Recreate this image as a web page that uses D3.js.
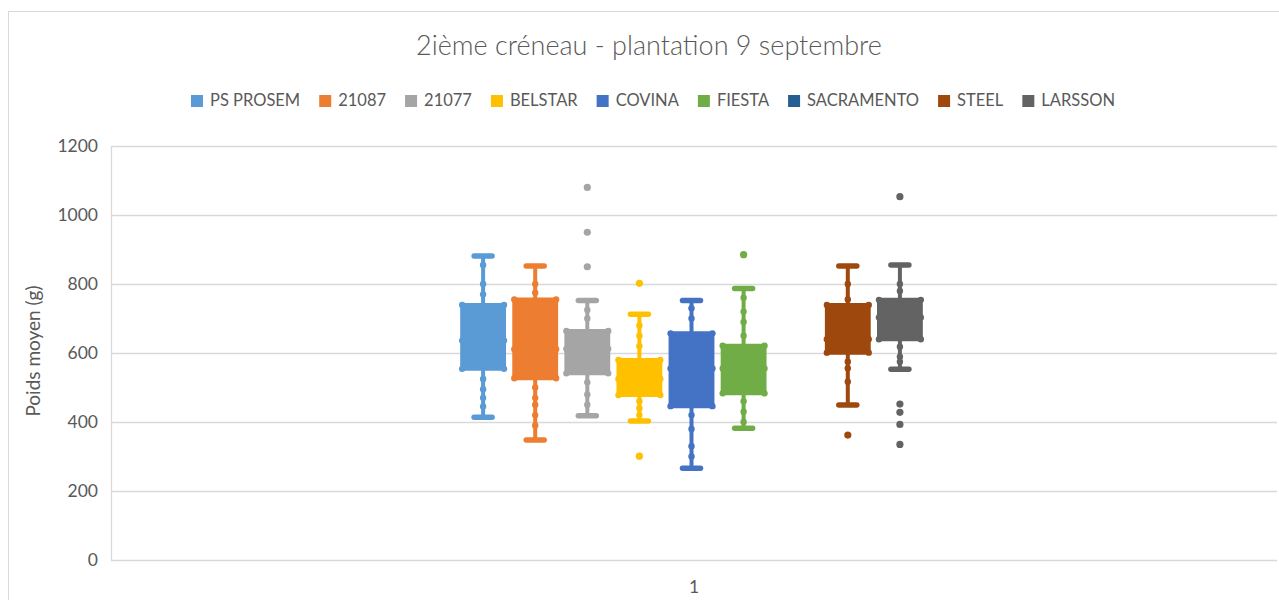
<!DOCTYPE html>
<html>
<head>
<meta charset="utf-8">
<script src="https://cdn.jsdelivr.net/npm/d3@7"></script>
<style>
  html, body { margin: 0; padding: 0; background: #fff; }
  text { font-family: Lato, "Open Sans", sans-serif; fill: #595959; }
</style>
</head>
<body>
<svg id="chart" width="1279" height="600"></svg>
<script>
    'use strict';

    // Data (g)
    const series = ['PS PROSEM', '21087', '21077', 'BELSTAR', 'COVINA', 'FIESTA', 'SACRAMENTO', 'STEEL', 'LARSSON'];
    const colors = ['#5B9BD5', '#ED7D31', '#A5A5A5', '#FFC000', '#4472C4', '#70AD47', '#255E91', '#9E480E', '#636363'];
    const whiskerLow = [414, 348, 418, 403, 266, 382, null, 449, 553];
    const q1 = [554, 527, 541, 478, 446, 483, null, 601, 640];
    const median = [636, 611, 612, 525, 555, 555, null, 640, 703];
    const q3 = [739, 755, 664, 580, 657, 621, null, 739, 754];
    const whiskerHigh = [881, 852, 752, 712, 752, 787, null, 852, 855];
    const outliers = [[], [], [1080, 950, 850], [802, 301], [], [885], [], [362], [1053, 452, 428, 393, 335]];
    const innerPoints = [
        [855, 800, 770, 525, 495, 470, 445],
        [800, 775, 500, 470, 450, 420, 390],
        [725, 700, 515, 480, 450],
        [680, 650, 620, 460, 440, 420],
        [730, 700, 420, 380, 330, 300],
        [760, 720, 690, 650, 460, 430, 400],
        [],
        [800, 755, 575, 556, 517],
        [800, 780, 618, 589, 575]
    ];
    const yTicks = [0, 200, 400, 600, 800, 1000, 1200];
    const categories = ['1'];

    // Layout
    const plot = { left: 111, right: 1277, top: 146, bottom: 560 };

    const svg = d3.select('#chart');

    // Chart area border
    svg.append('rect')
        .attr('x', 8.5).attr('y', 11.5)
        .attr('width', 1300).attr('height', 700)
        .attr('fill', 'none')
        .attr('stroke', '#D9D9D9');

    const y = d3.scaleLinear().domain([0, 1200]).range([plot.bottom, plot.top]);
    const xCat = d3.scaleBand().domain(categories).range([plot.left, plot.right]);
    const catCenter = xCat('1') + xCat.bandwidth() / 2 - 2.5;
    const step = 52.1;
    const x = d3.scaleBand()
        .domain(series)
        .range([catCenter - step * series.length / 2, catCenter + step * series.length / 2])
        .paddingInner(0.12)
        .paddingOuter(0.06);

    // Gridlines
    svg.append('g')
        .selectAll('line')
        .data(yTicks)
        .join('line')
        .attr('x1', plot.left).attr('x2', plot.right)
        .attr('y1', d => Math.round(y(d)) + 0.5).attr('y2', d => Math.round(y(d)) + 0.5)
        .attr('stroke', '#D9D9D9')
        .attr('stroke-width', 1.3);

    // Vertical axis line
    svg.append('line')
        .attr('x1', plot.left + 0.5).attr('x2', plot.left + 0.5)
        .attr('y1', plot.top).attr('y2', plot.bottom)
        .attr('stroke', '#D9D9D9')
        .attr('stroke-width', 1.3);

    // Y tick labels
    svg.append('g')
        .selectAll('text')
        .data(yTicks)
        .join('text')
        .attr('x', 98)
        .attr('y', d => y(d) + 6)
        .attr('text-anchor', 'end')
        .attr('font-size', 17.5)
        .text(d => d);

    // Y axis title
    svg.append('text')
        .attr('transform', `translate(40,${(plot.top + plot.bottom) / 2 - 2}) rotate(-90)`)
        .attr('text-anchor', 'middle')
        .attr('font-size', 19)
        .text('Poids moyen (g)');

    // Category label
    svg.append('text')
        .attr('x', xCat('1') + xCat.bandwidth() / 2)
        .attr('y', 593)
        .attr('text-anchor', 'middle')
        .attr('font-size', 17.5)
        .text(categories[0]);

    // Boxes
    const boxes = svg.append('g')
        .selectAll('g')
        .data(series.map((name, i) => ({ name, i })).filter(d => median[d.i] !== null))
        .join('g');

    const lw = 4;
    const capHalf = 9;

    boxes.each(function(d) {
        const g = d3.select(this);
        const c = colors[d.i];
        const x0 = x(d.name);
        const w = x.bandwidth();
        const cx = x0 + w / 2;

        // Whiskers
        g.append('line')
            .attr('x1', cx).attr('x2', cx)
            .attr('y1', y(whiskerHigh[d.i])).attr('y2', y(whiskerLow[d.i]))
            .attr('stroke', c).attr('stroke-width', lw);
        [whiskerHigh[d.i], whiskerLow[d.i]].forEach(v => {
            g.append('line')
                .attr('x1', cx - capHalf).attr('x2', cx + capHalf)
                .attr('y1', y(v)).attr('y2', y(v))
                .attr('stroke', c).attr('stroke-width', 5.5)
                .attr('stroke-linecap', 'round');
        });

        // Inner points
        g.selectAll('circle.inner')
            .data(innerPoints[d.i])
            .join('circle')
            .attr('class', 'inner')
            .attr('cx', cx).attr('cy', v => y(v))
            .attr('r', 3.2)
            .attr('fill', c);

        // Box
        g.append('rect')
            .attr('x', x0 + lw / 2).attr('y', y(q3[d.i]))
            .attr('width', w - lw).attr('height', y(q1[d.i]) - y(q3[d.i]))
            .attr('fill', c)
            .attr('stroke', c).attr('stroke-width', lw)
            .attr('stroke-linejoin', 'round');

        // Edge dots at corners and median ends
        [q3[d.i], median[d.i], q1[d.i]].forEach(v => {
            [x0 + lw / 2, x0 + w - lw / 2].forEach(px => {
                g.append('circle')
                    .attr('cx', px).attr('cy', y(v))
                    .attr('r', 3.2)
                    .attr('fill', c);
            });
        });

        // Outliers
        g.selectAll('circle.out')
            .data(outliers[d.i])
            .join('circle')
            .attr('class', 'out')
            .attr('cx', cx).attr('cy', v => y(v))
            .attr('r', 3.6)
            .attr('fill', c);
    });

    // Title
    svg.append('text')
        .attr('x', 649)
        .attr('y', 55)
        .attr('text-anchor', 'middle')
        .attr('font-size', 27)
        .attr('font-weight', 300)
        .text('2ième créneau - plantation 9 septembre');

    // Legend
    const legend = svg.append('g');
    const items = legend.selectAll('g')
        .data(series)
        .join('g');
    items.append('rect')
        .attr('width', 12).attr('height', 12)
        .attr('y', -11)
        .attr('fill', (d, i) => colors[i]);
    items.append('text')
        .attr('x', 19)
        .attr('font-size', 16.5)
        .text(d => d);

    const gap = 19;
    let widths = [];
    items.each(function() {
        widths.push(19 + this.querySelector('text').getComputedTextLength());
    });
    const total = d3.sum(widths) + gap * (widths.length - 1);
    let cursor = 653 - total / 2;
    items.attr('transform', (d, i) => {
        const t = `translate(${cursor},106)`;
        cursor += widths[i] + gap;
        return t;
    });
</script>
</body>
</html>
